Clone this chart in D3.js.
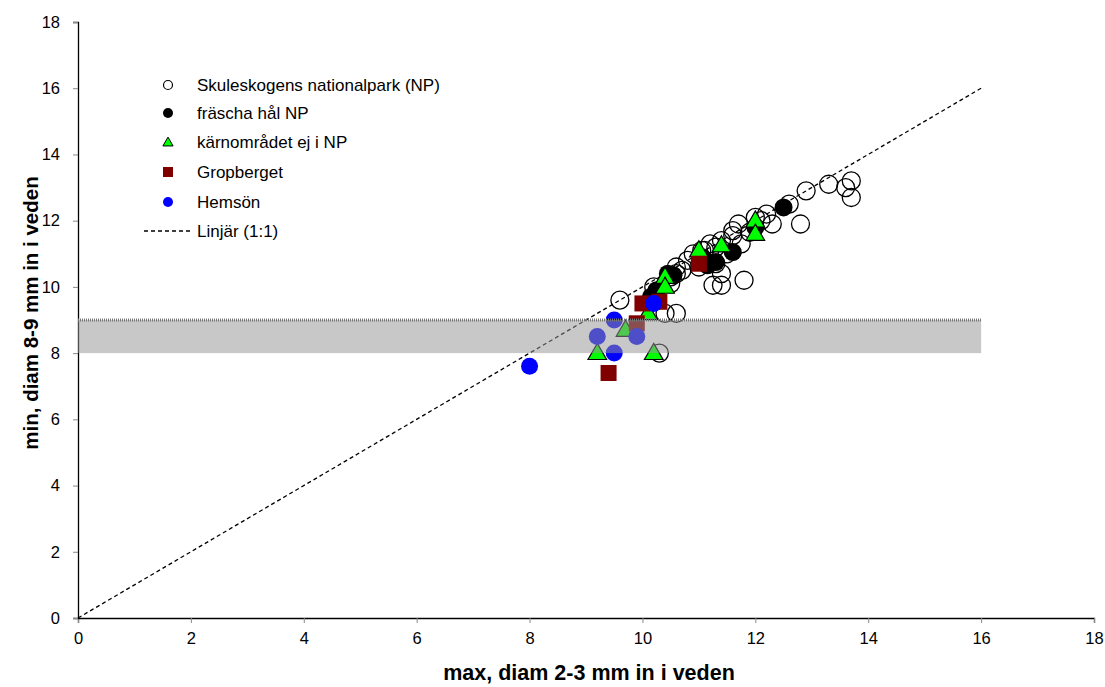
<!DOCTYPE html>
<html>
<head>
<meta charset="utf-8">
<script src="https://cdn.jsdelivr.net/npm/d3@7"></script>
<style>
  body { margin: 0; background: #fff; }
  text { font-family: "Liberation Sans", Arial, sans-serif; }
</style>
</head>
<body>
<div class="drawBoard"></div>
<script>
// series data (x = max diam 2-3 mm, y = min diam 8-9 mm)
const skuleX = [9.6, 10.3, 10.4, 10.6, 10.5, 10.5, 10.6, 10.6, 10.9, 11.0, 11.05, 11.2, 11.25, 11.4, 11.4, 11.4, 11.6, 11.6, 11.75, 11.8, 11.9, 12.1, 12.2, 12.3, 12.6, 12.8, 12.9, 13.3, 13.6, 13.7, 13.7, 10.2, 10.7, 11.1, 11.3, 11.5, 11.3, 12.0, 11.7, 10.8];
const skuleY = [9.6, 8.0, 9.2, 9.2, 10.1, 10.3, 10.4, 10.6, 11.0, 10.6, 11.1, 11.3, 10.05, 10.05, 10.4, 11.4, 11.55, 11.7, 11.3, 10.2, 11.65, 12.0, 12.2, 11.9, 12.5, 11.9, 12.9, 13.1, 13.0, 13.2, 12.7, 10.0, 10.5, 11.1, 11.2, 11.0, 10.7, 12.1, 11.9, 10.8];

const freshX = [12.5, 11.6, 11.3, 11.15, 11.05, 10.45, 10.55, 10.25, 10.15, 12.0];
const freshY = [12.4, 11.05, 10.75, 10.65, 10.9, 10.4, 10.35, 9.9, 9.7, 11.8];

const coreX = [9.2, 10.2, 9.7, 10.4, 10.4, 10.1, 11.0, 11.4, 12.0, 12.0];
const coreY = [8.0, 8.0, 8.7, 10.3, 10.0, 9.2, 11.1, 11.25, 12.0, 11.6];

const gropX = [9.4, 9.9, 10.0, 10.3, 11.0];
const gropY = [7.4, 8.9, 9.5, 9.55, 10.7];

const hemsX = [8.0, 9.5, 9.2, 9.9, 9.5, 10.2];
const hemsY = [7.6, 9.0, 8.5, 8.5, 8.0, 9.5];

const xTicks = [0, 2, 4, 6, 8, 10, 12, 14, 16, 18];
const yTicks = [0, 2, 4, 6, 8, 10, 12, 14, 16, 18];
const lineEnd = 16;      // 1:1 line goes 0..16
const band = [8, 9];     // grey band y range, x 0..16

const legendNames = ['Skuleskogens nationalpark (NP)', 'fräscha hål NP', 'kärnområdet ej i NP', 'Gropberget', 'Hemsön', 'Linjär (1:1)'];

const width = 1105, height = 687;
const svg = d3.select('.drawBoard').append('svg')
        .attr('width', width)
        .attr('height', height);

const x = d3.scaleLinear().domain([0, 18]).range([78, 1094]);
const y = d3.scaleLinear().domain([0, 18]).range([618, 22]);

// axes
const xAxis = svg.append('g')
        .attr('transform', 'translate(0,618)')
        .call(d3.axisBottom(x).tickValues(xTicks).tickSize(5).tickPadding(9));
const yAxis = svg.append('g')
        .attr('transform', 'translate(78,0)')
        .call(d3.axisLeft(y).tickValues(yTicks).tickSize(5).tickPadding(13));
[xAxis, yAxis].forEach(a => {
    a.select('.domain').attr('stroke', '#000').attr('stroke-width', 1.3);
    a.selectAll('.tick line').attr('stroke', '#888');
    a.selectAll('.tick text').attr('font-size', 16.5).attr('fill', '#000')
        .attr('font-family', '"Liberation Sans", Arial, sans-serif');
});

// 1:1 line
svg.append('line')
        .attr('x1', x(0)).attr('y1', y(0))
        .attr('x2', x(lineEnd)).attr('y2', y(lineEnd))
        .attr('stroke', '#000')
        .attr('stroke-width', 1.3)
        .attr('stroke-dasharray', '4,3');

const zip = (xs, ys) => xs.map((d, i) => [d, ys[i]]);

// fresh holes (black)
svg.append('g').selectAll('circle').data(zip(freshX, freshY)).join('circle')
        .attr('cx', d => x(d[0])).attr('cy', d => y(d[1]))
        .attr('r', 9).attr('fill', '#000');

// Skuleskogen (open)
svg.append('g').selectAll('circle').data(zip(skuleX, skuleY)).join('circle')
        .attr('cx', d => x(d[0])).attr('cy', d => y(d[1]))
        .attr('r', 9).attr('fill', 'none').attr('stroke', '#000').attr('stroke-width', 1.3);

// core area (green triangles)
const tri = d3.symbol().type(d3.symbolTriangle).size(150);
svg.append('g').selectAll('path').data(zip(coreX, coreY)).join('path')
        .attr('d', tri)
        .attr('transform', d => `translate(${x(d[0])},${y(d[1]) + 1})`)
        .attr('fill', '#00ff00').attr('stroke', '#000').attr('stroke-width', 1.2);

// Gropberget (squares)
svg.append('g').selectAll('rect').data(zip(gropX, gropY)).join('rect')
        .attr('x', d => x(d[0]) - 8).attr('y', d => y(d[1]) - 8)
        .attr('width', 16).attr('height', 16)
        .attr('fill', '#800000');

// Hemsön (blue)
svg.append('g').selectAll('circle').data(zip(hemsX, hemsY)).join('circle')
        .attr('cx', d => x(d[0])).attr('cy', d => y(d[1]))
        .attr('r', 8.5).attr('fill', '#0000ff');

// grey band on top
svg.append('rect')
        .attr('x', x(0)).attr('y', y(band[1]))
        .attr('width', x(lineEnd) - x(0)).attr('height', y(band[0]) - y(band[1]))
        .attr('fill', '#969696').attr('opacity', 0.52);
svg.append('line')
        .attr('x1', x(0)).attr('x2', x(lineEnd))
        .attr('y1', y(band[1])).attr('y2', y(band[1]))
        .attr('stroke', '#777').attr('stroke-width', 3)
        .attr('stroke-dasharray', '1,1');

// legend
const lx = 168, ly = [85, 113, 142, 172, 202, 231];
const leg = svg.append('g');
leg.append('circle').attr('cx', lx).attr('cy', ly[0]).attr('r', 4.5)
        .attr('fill', '#fff').attr('stroke', '#000').attr('stroke-width', 1.2);
leg.append('circle').attr('cx', lx).attr('cy', ly[1]).attr('r', 5).attr('fill', '#000');
leg.append('path').attr('d', d3.symbol().type(d3.symbolTriangle).size(45))
        .attr('transform', `translate(${lx},${ly[2] + 1})`)
        .attr('fill', '#00ff00').attr('stroke', '#000').attr('stroke-width', 1);
leg.append('rect').attr('x', lx - 5).attr('y', ly[3] - 5).attr('width', 10).attr('height', 10).attr('fill', '#800000');
leg.append('circle').attr('cx', lx).attr('cy', ly[4]).attr('r', 5).attr('fill', '#0000ff');
leg.append('line').attr('x1', 144).attr('x2', 192).attr('y1', ly[5]).attr('y2', ly[5])
        .attr('stroke', '#000').attr('stroke-width', 1.3).attr('stroke-dasharray', '4,3');
leg.selectAll('text').data(legendNames).join('text')
        .attr('x', 197).attr('y', (d, i) => ly[i] + 6)
        .attr('font-size', 17)
        .text(d => d);

// axis titles
svg.append('text')
        .attr('x', 589).attr('y', 680)
        .attr('text-anchor', 'middle')
        .attr('font-size', 21.5).attr('font-weight', 'bold')
        .text('max, diam 2-3 mm in i veden');
svg.append('text')
        .attr('transform', 'translate(38,313) rotate(-90)')
        .attr('text-anchor', 'middle')
        .attr('font-size', 20.5).attr('font-weight', 'bold')
        .text('min, diam 8-9 mm in i veden');
</script>
</body>
</html>
